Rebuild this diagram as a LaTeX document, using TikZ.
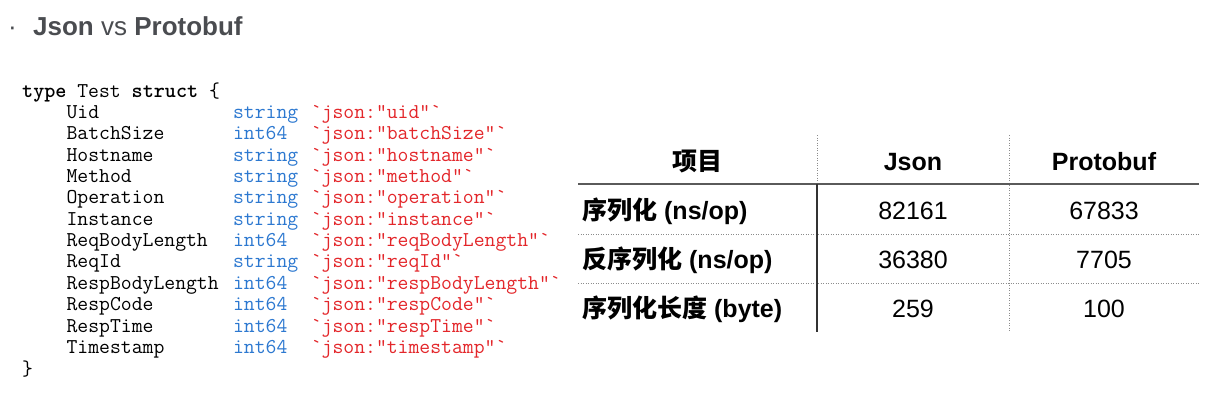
\documentclass[tikz,border=0pt]{standalone}
\usepackage{fontspec}
\setmainfont{Liberation Sans}
\newfontfamily\cjk{Noto Sans CJK SC}
\definecolor{titlegray}{HTML}{4A4C50}
\definecolor{typeblue}{HTML}{2C78D0}
\definecolor{tagred}{HTML}{E3262A}
\definecolor{rulegray}{HTML}{5A5A5A}
\tikzset{
  codetxt/.style={anchor=base west, inner sep=0pt, font=\ttfamily\fontsize{21.1}{23}\selectfont, text=black},
  typetxt/.style={codetxt, text=typeblue},
  tagtxt/.style={codetxt, text=tagred},
  hdr/.style={anchor=base, inner sep=0pt, font=\fontsize{25}{28}\selectfont\bfseries},
  lbl/.style={anchor=base west, inner sep=0pt, font=\fontsize{25}{28}\selectfont\bfseries},
  num/.style={anchor=base, inner sep=0pt, font=\fontsize{25}{28}\selectfont},
  dotline/.style={draw=gray!90, line width=0.9pt, dash pattern=on 1.2pt off 1.3pt},
}
\begin{document}
\begin{tikzpicture}[x=1pt,y=-1pt]
\useasboundingbox (0,0) rectangle (1215,413);
% title
\node[anchor=base west, inner sep=0pt, text=titlegray, font=\fontsize{26}{30}\selectfont] (bullet) at (8,35) {·};
\node[anchor=base west, inner sep=0pt, text=titlegray, font=\fontsize{26}{30}\selectfont] (title) at (33,35) {\textbf{Json} vs \textbf{Protobuf}};
% code
\node[codetxt] (c0) at (22,97) {\textbf{type} Test \textbf{struct} \{};
\foreach \nm/\ty/\tg [count=\i] in {Uid/string/uid, BatchSize/int64/batchSize, Hostname/string/hostname, Method/string/method, Operation/string/operation, Instance/string/instance, ReqBodyLength/int64/reqBodyLength, ReqId/string/reqId, RespBodyLength/int64/respBodyLength, RespCode/int64/respCode, RespTime/int64/respTime, Timestamp/int64/timestamp}{
  \pgfmathsetmacro\yy{97+21.37*\i}
  \node[codetxt] (n\i) at (66.4,\yy) {\nm};
  \node[typetxt] (t\i) at (232.9,\yy) {\ty};
  \node[tagtxt] (g\i) at (310.6,\yy) {`json:"\tg"`};
}
\node[codetxt] (cend) at (22,375) {\}};
% table geometry
\coordinate (hl) at (578,184); \coordinate (hr) at (1199,184);
\coordinate (v1t) at (817,135); \coordinate (v1m) at (817,184); \coordinate (v1b) at (817,332);
\coordinate (v2t) at (1009,135); \coordinate (v2b) at (1009,332);
\coordinate (d1l) at (578,234); \coordinate (d1r) at (1199,234);
\coordinate (d2l) at (578,283); \coordinate (d2r) at (1199,283);
\draw[dotline] (v1t) -- (v1m);
\draw[dotline] (v2t) -- (v2b);
\draw[dotline] (d1l) -- (d1r);
\draw[dotline] (d2l) -- (d2r);
\draw[draw=rulegray, line width=1.6pt] (hl) -- (hr);
\draw[draw=black!80, line width=1.4pt] (v1m) -- (v1b);
% header
\node[hdr] (h0) at (697.5,170) {\cjk\bfseries 项目};
\node[hdr] (h1) at (913,170) {Json};
\node[hdr] (h2) at (1104,170) {Protobuf};
% rows
\node[lbl] (r1) at (582,219) {{\cjk\bfseries 序列化} (ns/op)};
\node[num] (r1a) at (913,219) {82161};
\node[num] (r1b) at (1104,219) {67833};
\node[lbl] (r2) at (582,268) {{\cjk\bfseries 反序列化} (ns/op)};
\node[num] (r2a) at (913,268) {36380};
\node[num] (r2b) at (1104,268) {7705};
\node[lbl] (r3) at (582,317) {{\cjk\bfseries 序列化长度} (byte)};
\node[num] (r3a) at (913,317) {259};
\node[num] (r3b) at (1104,317) {100};
\end{tikzpicture}
\end{document}
